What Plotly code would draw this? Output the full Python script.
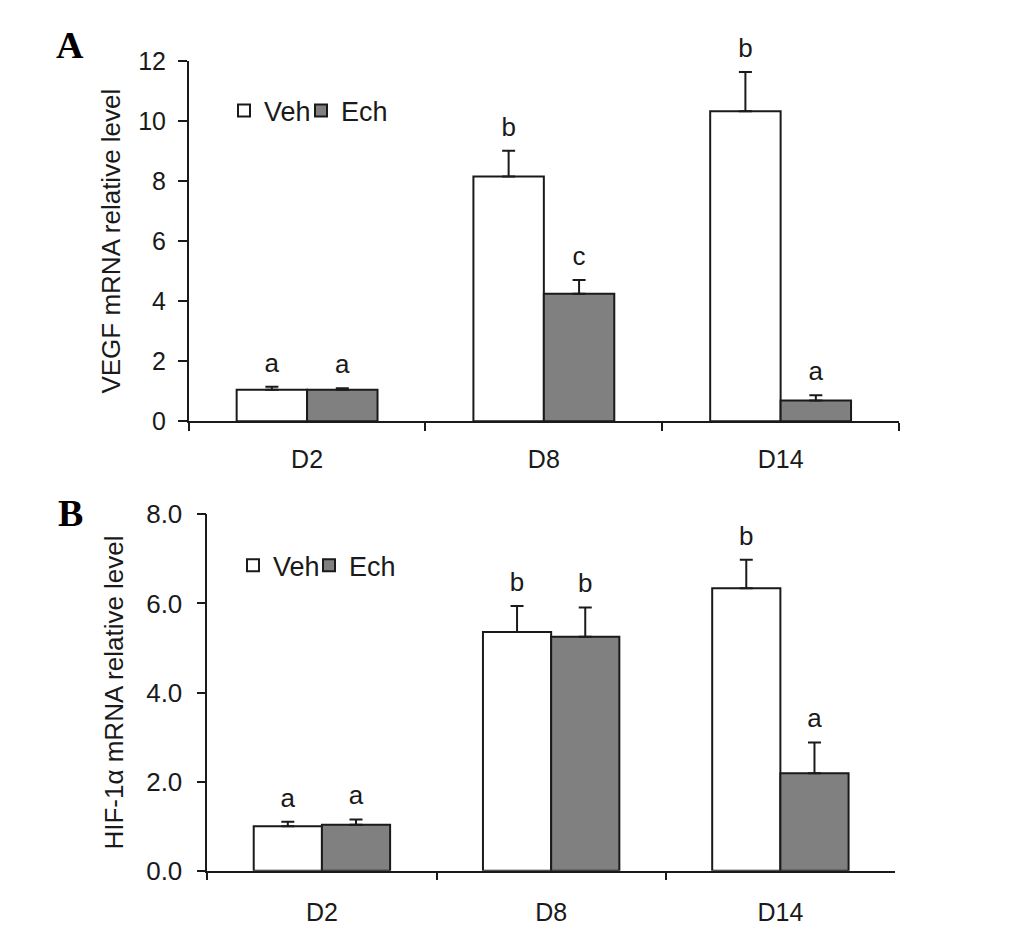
import plotly.graph_objects as go

days = ["D2", "D8", "D14"]

# panel A: VEGF
vegf_veh = [1.05, 8.15, 10.33]
vegf_veh_err = [0.1, 0.86, 1.3]
vegf_ech = [1.05, 4.25, 0.69]
vegf_ech_err = [0.05, 0.46, 0.18]
vegf_veh_letters = ["a", "b", "b"]
vegf_ech_letters = ["a", "c", "a"]

# panel B: HIF-1a
hif_veh = [1.0, 5.36, 6.34]
hif_veh_err = [0.1, 0.58, 0.64]
hif_ech = [1.03, 5.25, 2.19]
hif_ech_err = [0.12, 0.66, 0.69]
hif_veh_letters = ["a", "b", "b"]
hif_ech_letters = ["a", "b", "a"]

# page body has an 8px margin, so the figure is a bit smaller than the window
PAD = 8
W, H = 1033 - 2 * PAD, 936 - 2 * PAD
FONT = "Liberation Sans, Arial, sans-serif"
SERIF = "Liberation Serif, Times New Roman, serif"
INK = "#1a1a1a"
GRAY = "#808080"


def px(x):
    return (x - PAD) / W


def py(y):
    return 1 - (y - PAD) / H


fig = go.Figure()


def add_panel(veh, veh_err, ech, ech_err, veh_lab, ech_lab, xa, ya, legs):
    for name, vals, err, color, leg in [("Veh", veh, veh_err, "white", legs[0]),
                                        ("Ech", ech, ech_err, GRAY, legs[1])]:
        fig.add_trace(go.Bar(
            x=days, y=vals, name=name, xaxis=xa, yaxis=ya, legend=leg,
            marker=dict(color=color, line=dict(color=INK, width=2)),
            error_y=dict(type="data", array=err, arrayminus=[0] * len(err),
                         symmetric=False, color=INK, thickness=2, width=6.5),
        ))
    for vals, err, labs in [(veh, veh_err, veh_lab), (ech, ech_err, ech_lab)]:
        fig.add_trace(go.Scatter(
            x=days, y=[v + e for v, e in zip(vals, err)], text=labs,
            mode="markers+text", textposition="top center", cliponaxis=False,
            marker=dict(size=12, opacity=0),
            textfont=dict(family=FONT, size=26, color=INK),
            xaxis=xa, yaxis=ya, showlegend=False, hoverinfo="skip",
        ))


add_panel(vegf_veh, vegf_veh_err, vegf_ech, vegf_ech_err,
          vegf_veh_letters, vegf_ech_letters, "x", "y", ("legend", "legend2"))
add_panel(hif_veh, hif_veh_err, hif_ech, hif_ech_err,
          hif_veh_letters, hif_ech_letters, "x2", "y2", ("legend3", "legend4"))

xcommon = dict(type="category", range=[-0.5, 2.5], showline=True, linecolor=INK,
               linewidth=1.5, ticks="outside", tickson="boundaries", ticklen=8,
               tickcolor=INK, tickwidth=1.5, showgrid=False, zeroline=False,
               automargin=False, tickfont=dict(family=FONT, size=25, color=INK))
ycommon = dict(showline=True, linecolor=INK, linewidth=1.5, ticks="outside",
               ticklen=9, tickcolor=INK, tickwidth=1.5, showgrid=False,
               zeroline=False, dtick=2, automargin=False,
               tickfont=dict(family=FONT, size=25, color=INK))

legfont = dict(family=FONT, size=27, color=INK)
legcommon = dict(orientation="h", xanchor="left", yanchor="middle", font=legfont,
                 bgcolor="rgba(0,0,0,0)", itemwidth=30)

fig.update_layout(
    width=W, height=H, margin=dict(l=0, r=0, t=0, b=0),
    paper_bgcolor="white", plot_bgcolor="white",
    barmode="group", bargap=0.405, bargroupgap=0,
    scattermode="group", scattergap=0.405,
    xaxis=dict(xcommon, domain=[px(188.7), px(899)], anchor="y", ticklabelstandoff=15),
    yaxis=dict(ycommon, domain=[py(421.3), py(61)], range=[0, 12],
               anchor="x", ticklabelstandoff=7,
               title=dict(text="VEGF mRNA relative level", standoff=10,
                          font=dict(family=FONT, size=26, color=INK))),
    xaxis2=dict(xcommon, domain=[px(207.3), px(895)], anchor="y2", ticklabelstandoff=19),
    yaxis2=dict(ycommon, domain=[py(870.7), py(514.3)], range=[0, 8],
                anchor="x2", tickformat=".1f", ticklabelstandoff=9,
                tickfont=dict(family=FONT, size=26, color=INK),
                title=dict(text="HIF-1α mRNA relative level", standoff=15,
                           font=dict(family=FONT, size=26, color=INK))),
    legend=dict(legcommon, x=px(224), y=py(111)),
    legend2=dict(legcommon, x=px(301), y=py(111)),
    legend3=dict(legcommon, x=px(233), y=py(565.7)),
    legend4=dict(legcommon, x=px(309), y=py(565.7)),
    annotations=[
        dict(text="<b>A</b>", x=px(70), y=py(45), xref="paper", yref="paper",
             xanchor="center", yanchor="middle", showarrow=False,
             font=dict(family=SERIF, size=38, color="black")),
        dict(text="<b>B</b>", x=px(70), y=py(513), xref="paper", yref="paper",
             xanchor="center", yanchor="middle", showarrow=False,
             font=dict(family=SERIF, size=38, color="black")),
    ],
)

fig.write_html("out.html")
